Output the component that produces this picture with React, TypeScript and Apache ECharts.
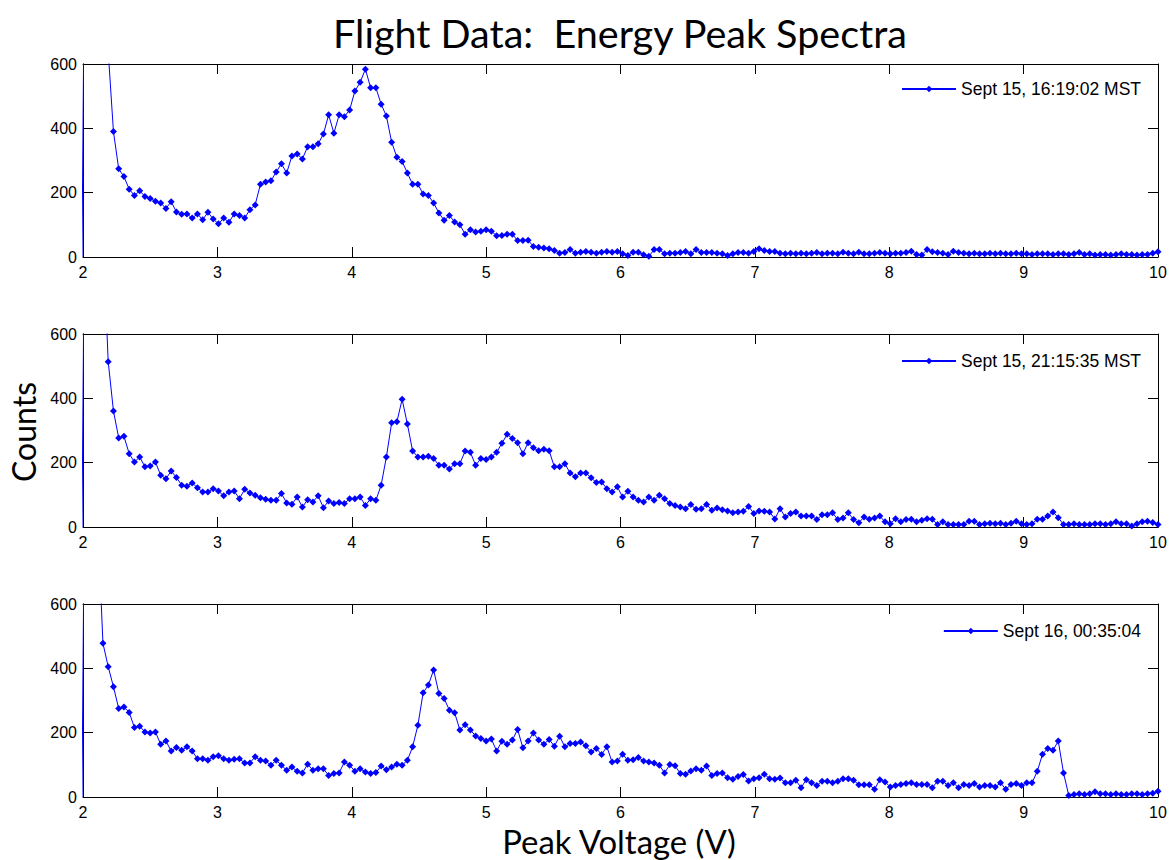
import React, { useEffect, useRef } from "react";
import * as echarts from "echarts";

// ---- data -------------------------------------------------------------
// ADC channels: 256 channels over 0..10 V, plotted channels 51..256
const CHANNEL_WIDTH = 10 / 256;
const FIRST_CHANNEL = 51;
const LAST_CHANNEL = 256;
const peakVoltage: number[] = [];
for (let c = FIRST_CHANNEL; c <= LAST_CHANNEL; c++) peakVoltage.push(c * CHANNEL_WIDTH);

const seriesNames = ["Sept 15, 16:19:02 MST", "Sept 15, 21:15:35 MST", "Sept 16, 00:35:04"];

const countsSep15Afternoon: number[] = [
  0, 2000, 1400, 1000, 780, 640,
  390, 274, 250, 211, 191, 206, 188, 182, 173, 168, 151, 172, 140, 133, 134, 121, 134, 116, 139, 118, 103, 121, 108, 134,
  129, 121, 147, 162, 226, 233, 237, 264, 290, 261, 314, 320, 305, 343, 343, 352, 382, 442, 385, 442, 436, 457, 516, 543,
  584, 526, 526, 475, 438, 357, 310,
  297, 261, 226, 226, 196, 191, 168, 137, 114, 129, 109, 100, 71, 85, 78, 80, 85, 80, 66, 67, 71, 71, 51, 51, 52, 33, 30,
  28, 26, 20, 12, 14, 23, 12, 15, 17, 15, 12, 15, 17, 15, 17, 10, 5, 15, 15, 7, 2, 23, 23, 10, 12, 12, 14, 17, 10, 23, 14,
  14, 14, 12, 10, 5, 10, 14, 14, 12, 17, 26, 20, 17, 17,
  12, 10, 12, 10, 12, 10, 12, 14, 10, 12, 12, 10, 15, 12, 10, 15, 10, 10, 12, 14, 12, 10, 12, 12, 14, 18, 8, 6, 23, 16,
  14, 12, 8, 18, 14, 12, 10, 12, 10, 10, 12, 10, 12, 10, 10, 12, 10, 10, 8, 10, 10, 10, 8, 10, 10, 8, 10, 14, 8, 10, 6,
  8, 8, 6, 8, 10, 8, 8, 6, 8, 8, 12, 16,
];

const countsSep15Evening: number[] = [
  0, 2000, 1500, 1150, 905,
  514, 361, 277, 282, 228, 202, 218, 187, 190, 202, 161, 150, 174, 154, 130, 127, 137, 122, 109, 109, 119, 112, 97, 109,
  112, 88, 117, 106, 99, 91, 86, 83, 83, 104, 75, 71, 93, 62, 85, 78, 97, 60, 81, 73, 76, 73, 88, 88, 93, 67, 88, 83, 130,
  218, 324, 327,
  397, 320, 236, 218, 218, 220, 213, 192, 192, 180, 197, 197, 236, 232, 192, 213, 210, 218, 232, 260, 288, 275, 262, 228,
  262, 246, 237, 242, 237, 187, 187, 197, 168, 156, 168, 168, 153, 138, 140, 119, 109, 125, 93, 111, 93, 83, 78, 93, 83,
  99, 88, 73, 67, 62, 57, 70, 55, 57, 70, 52, 59, 54, 50, 44, 47, 49, 64, 42, 50, 49, 47, 25,
  57, 31, 42, 47, 34, 34, 34, 23, 38, 38, 44, 23, 28, 44, 23, 13, 31, 24, 28, 34, 16, 10, 26, 16, 23, 24, 16, 21, 26, 24,
  8, 16, 8, 8, 8, 8, 18, 18, 8, 10, 12, 10, 12, 8, 12, 18, 10, 8, 10, 24, 24, 34, 47, 29, 8, 8, 10, 8, 8, 8, 10, 10, 8, 10,
  16, 10, 10, 3, 10, 16, 18, 14, 8,
];

const countsSep16Night: number[] = [
  0, 2000, 1300, 860,
  478, 405, 343, 275, 280, 263, 216, 220, 202, 199, 202, 164, 174, 143, 154, 145, 156, 143, 119, 119, 114, 125, 128, 119,
  114, 117, 119, 106, 106, 125, 114, 112, 99, 114, 99, 83, 93, 80, 75, 102, 83, 88, 88, 67, 73, 75, 109, 99, 80, 88, 78,
  73, 76, 96, 85, 93, 102,
  99, 114, 156, 223, 324, 348, 395, 322, 306, 270, 262, 208, 225, 208, 190, 182, 174, 180, 143, 173, 164, 177, 210, 153,
  174, 199, 177, 164, 179, 158, 189, 156, 166, 166, 171, 159, 140, 151, 132, 156, 109, 112, 133, 114, 116, 123, 112, 109,
  106, 99, 75, 101, 97, 73, 71, 81, 88, 83, 96, 67, 73, 75, 60, 55, 64, 70, 50, 57, 60, 71, 57, 55,
  59, 44, 44, 52, 29, 54, 44, 36, 49, 49, 44, 49, 57, 57, 52, 38, 38, 38, 24, 54, 47, 31, 36, 39, 42, 44, 39, 39, 39, 29,
  49, 49, 36, 44, 29, 39, 36, 42, 31, 36, 36, 31, 44, 24, 39, 42, 36, 44, 44, 80, 133, 151, 145, 174, 75,
  5, 8, 10, 8, 10, 16, 10, 10, 8, 10, 8, 8, 10, 10, 8, 10, 12, 18,
];

const allCounts = [countsSep15Afternoon, countsSep15Evening, countsSep16Night];

const xTickMin = 2;
const xTickMax = 10;
const xTickStep = 1;
const yTickMin = 0;
const yTickMax = 600;
const yTickStep = 200;

const TITLE = "Flight Data:  Energy Peak Spectra";
const X_LABEL = "Peak Voltage (V)";
const Y_LABEL = "Counts";

// ---- layout -----------------------------------------------------------
const W = 1171;
const H = 860;
const gridTops = [64, 334, 604];
const GRID_LEFT = 83;
const GRID_RIGHT = 13;
const GRID_HEIGHT = 193;
const legendTops = [75, 347, 617];
const BLUE = "#0000ff";
const TICK_FONT = "Liberation Sans, Arial, sans-serif";
const LABEL_FONT = "Lato, sans-serif";

function fitScale(text: string, size: number, target: number): number {
  const c = document.createElement("canvas").getContext("2d");
  if (!c) return 1;
  c.font = `${size}px Lato`;
  const w = c.measureText(text).width;
  return w > 0 ? target / w : 1;
}

export default function App() {
  const ref = useRef<HTMLDivElement>(null);

  useEffect(() => {
    if (!ref.current) return;
    const chart = echarts.init(ref.current, undefined, { renderer: "svg" });

    const grid: any[] = [];
    const xAxis: any[] = [];
    const yAxis: any[] = [];
    const series: any[] = [];
    const legend: any[] = [];

    const axisLine = { show: true, onZero: false, lineStyle: { color: "#000", width: 1 } };
    const axisTick = { show: true, inside: true, length: 10, lineStyle: { color: "#000", width: 1 } };

    gridTops.forEach((top, g) => {
      grid.push({ left: GRID_LEFT, right: GRID_RIGHT, top, height: GRID_HEIGHT, containLabel: false });
      const xBase = {
        gridIndex: g, type: "value", min: xTickMin, max: xTickMax, interval: xTickStep,
        axisLine, axisTick, splitLine: { show: false }, z: 0,
      };
      xAxis.push({
        ...xBase, position: "bottom",
        axisLabel: { color: "#000", fontSize: 16, fontFamily: TICK_FONT, margin: 7, showMinLabel: true, showMaxLabel: true },
      });
      xAxis.push({ ...xBase, position: "top", axisLabel: { show: false } });
      const yBase = {
        gridIndex: g, type: "value", min: yTickMin, max: yTickMax, interval: yTickStep,
        axisLine, axisTick, splitLine: { show: false }, z: 0,
      };
      yAxis.push({
        ...yBase, position: "left",
        axisLabel: { color: "#000", fontSize: 16, fontFamily: TICK_FONT, margin: 6 },
      });
      yAxis.push({ ...yBase, position: "right", axisLabel: { show: false } });

      series.push({
        name: seriesNames[g],
        type: "line",
        xAxisIndex: g * 2,
        yAxisIndex: g * 2,
        data: peakVoltage.map((v, k) => [v, allCounts[g][k]]),
        symbol: "diamond",
        symbolSize: 7,
        showSymbol: true,
        clip: true,
        z: 5,
        lineStyle: { color: BLUE, width: 1 },
        itemStyle: { color: BLUE },
        emphasis: { disabled: true },
      });

      legend.push({
        data: [seriesNames[g]],
        right: 25,
        top: legendTops[g],
        itemWidth: 54,
        itemHeight: 8,
        itemGap: 5,
        selectedMode: false,
        textStyle: { fontSize: 17.5, color: "#000", fontFamily: TICK_FONT },
      });
    });

    const titleSize = 39;
    const labelSize = 32;

    chart.setOption({
      animation: false,
      backgroundColor: "#ffffff",
      grid,
      xAxis,
      yAxis,
      series,
      legend,
      graphic: [
        {
          type: "text", x: 620, y: 33, scaleX: fitScale(TITLE, titleSize, 575),
          style: { text: TITLE, fontSize: titleSize, fontFamily: LABEL_FONT, fill: "#000", align: "center", verticalAlign: "middle" },
        },
        {
          type: "text", x: 619, y: 842, scaleX: fitScale(X_LABEL, labelSize, 235),
          style: { text: X_LABEL, fontSize: labelSize, fontFamily: LABEL_FONT, fill: "#000", align: "center", verticalAlign: "middle" },
        },
        {
          type: "text", x: 23, y: 432, rotation: Math.PI / 2, scaleX: fitScale(Y_LABEL, labelSize, 100),
          style: { text: Y_LABEL, fontSize: labelSize, fontFamily: LABEL_FONT, fill: "#000", align: "center", verticalAlign: "middle" },
        },
      ],
    });

    return () => chart.dispose();
  }, []);

  return (
    <div
      ref={ref}
      style={{ position: "absolute", left: 0, top: 0, width: W, height: H, background: "#fff" }}
    />
  );
}
